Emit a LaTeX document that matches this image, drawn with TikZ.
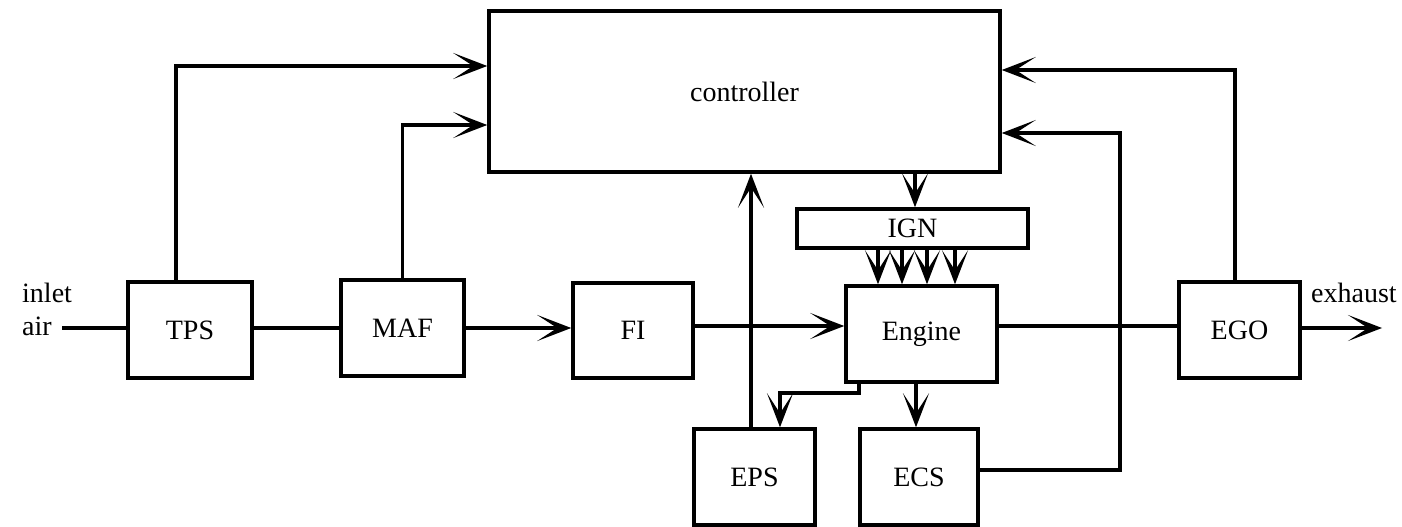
\documentclass[tikz,border=0pt]{standalone}
\usepackage{fontspec}
\setmainfont{Liberation Serif}
\usetikzlibrary{arrows.meta}
\begin{document}
\begin{tikzpicture}[x=1pt,y=-1pt,
  blk/.style={draw,line width=3.5pt,minimum width=#1,inner sep=0pt,font=\fontsize{28}{30}\selectfont},
  wire/.style={line width=3.5pt},
  arr/.style={wire,-{Stealth[length=34pt,width=26pt,inset=20pt]}},
  lbl/.style={inner sep=0pt,font=\fontsize{28}{32}\selectfont}]
\useasboundingbox (0,0) rectangle (1402,527);
\node[blk=511pt,minimum height=161pt] (ctrl) at (744.5,91.5) {controller};
\node[blk=124pt,minimum height=96pt] (TPS) at (190,330) {TPS};
\node[blk=123pt,minimum height=96pt] (MAF) at (402.5,328) {MAF};
\node[blk=120pt,minimum height=95pt] (FI) at (633,330.5) {FI};
\node[blk=151pt,minimum height=96pt] (Eng) at (921.5,334) {Engine};
\node[blk=231pt,minimum height=39pt] (IGN) at (912.5,228.5) {IGN};
\node[blk=121pt,minimum height=96pt] (EPS) at (754.5,477) {EPS};
\node[blk=118pt,minimum height=96pt] (ECS) at (919,477) {ECS};
\node[blk=121pt,minimum height=96pt] (EGO) at (1239.5,330) {EGO};
\node[lbl,anchor=base west] (inlet) at (22,302) {inlet};
\node[lbl,anchor=base west] (air) at (22,335) {air};
\node[lbl,anchor=base west] (exh) at (1311,302) {exhaust};
\coordinate (in) at (62,328);
\coordinate (out) at (1382,328);
% main row
\draw[wire] (in) -- (in -| TPS.west);
\draw[wire] (TPS.east |- 0,328) -- (MAF.west |- 0,328);
\draw[arr] (MAF.east |- 0,328) -- (FI.west |- 0,328);
\draw[arr] (FI.east |- 0,326) -- (Eng.west |- 0,326);
\draw[wire] (Eng.east |- 0,326) -- (EGO.west |- 0,326);
\draw[arr] (EGO.east |- 0,328) -- (out);
% sensors to controller
\draw[arr] (TPS.north -| 176,0) |- (ctrl.west |- 0,66);
\draw[arr] (MAF.north) |- (ctrl.west |- 0,125);
\draw[arr] (EGO.north -| 1235,0) |- (ctrl.east |- 0,70);
\draw[arr] (ECS.east |- 0,470) -| (1120,133) -- (ctrl.east |- 0,133);
\draw[arr] (EPS.north -| 751,0) -- (ctrl.south -| 751,0);
% controller to IGN to engine
\draw[arr] (ctrl.south -| 915,0) -- (IGN.north -| 915,0);
\foreach \xx in {878,902,927,955}{
  \draw[arr] (IGN.south -| \xx,0) -- (Eng.north -| \xx,0);
}
% engine outputs
\draw[arr] (Eng.south -| 859,0) |- (780,393) -- (EPS.north -| 780,0);
\draw[arr] (Eng.south -| 916,0) -- (ECS.north -| 916,0);
\end{tikzpicture}
\end{document}
